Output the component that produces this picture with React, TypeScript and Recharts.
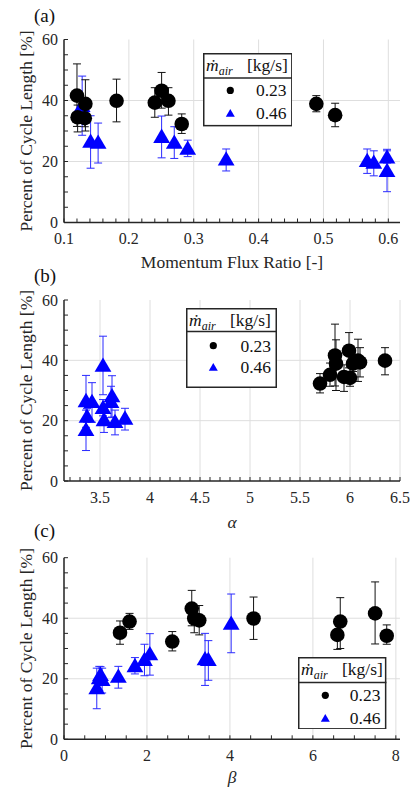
import React from 'react';
import { ScatterChart, Scatter, XAxis, YAxis, ErrorBar, CartesianGrid, Label } from 'recharts';

const SERIF = 'Liberation Serif, Tinos, Times, DejaVu Serif, serif';
const INK = '#262626';

// percent of cycle length [%] for m_air = 0.23 kg/s (circles), same points in all panels
const circleY = [41.6, 38.9, 34.5, 34.2, 39.9, 39.3, 43.2, 39.9, 32.3, 38.9, 35.2];
const circleLo = [31.5, 30.0, 29.7, 31.4, 33.0, 34.5, 37.5, 35.2, 29.2, 36.3, 31.4];
const circleHi = [52.0, 46.8, 38.5, 37.8, 47.0, 44.2, 49.2, 44.2, 35.6, 41.6, 39.1];
const circleMfr = [0.12, 0.133, 0.121, 0.132, 0.181, 0.24, 0.2505, 0.261, 0.2815, 0.489, 0.518];
const circleAlpha = [5.85, 5.86, 5.94, 6.0, 6.08, 6.1, 5.99, 6.35, 5.7, 6.03, 5.8];
const circleBeta = [7.5, 6.66, 6.59, 7.78, 4.57, 3.26, 3.08, 3.14, 2.61, 1.58, 1.35];

// m_air = 0.46 kg/s (triangles)
const triY = [38.5, 26.8, 26.5, 28.4, 26.5, 24.5, 21.0, 20.5, 19.9, 21.6, 17.2];
const triLo = [28.6, 17.8, 19.5, 21.2, 21.0, 21.6, 16.9, 16.1, 15.3, 19.5, 10.1];
const triHi = [48.0, 35.0, 32.6, 34.9, 31.4, 27.0, 24.1, 24.1, 23.5, 24.0, 23.5];
const triMfr = [0.128, 0.141, 0.1526, 0.2505, 0.27, 0.2907, 0.35, 0.5674, 0.5776, 0.598, 0.598];
const triAlpha = [3.53, 3.36, 3.42, 3.62, 3.61, 3.53, 3.75, 3.54, 3.65, 3.37, 3.36];
const triBeta = [4.03, 3.4, 3.48, 2.07, 1.94, 1.71, 1.31, 0.85, 0.92, 0.88, 0.79];

const yTicks = [0, 20, 40, 60];
const mfrTicks = [0.1, 0.2, 0.3, 0.4, 0.5, 0.6];
const alphaTicks = [3.5, 4, 4.5, 5, 5.5, 6, 6.5];
const betaTicks = [0, 2, 4, 6, 8];
const legendLabels = ['0.23', '0.46'];

const range = (a: number, b: number, step: number) => {
  const out: number[] = [];
  for (let v = a; v <= b + 1e-9; v += step) out.push(Math.round(v * 1000) / 1000);
  return out;
};

const yMinor = range(0, 60, 5);

const rows = (xs: number[], ys: number[], lo: number[], hi: number[]) =>
  xs.map((x, i) => ({ x, y: ys[i], err: [ys[i] - lo[i], hi[i] - ys[i]] }));

const majorFmt = (majors: number[]) => (v: number) =>
  majors.some((m) => Math.abs(m - v) < 1e-6) ? String(v) : '';

const Dot = (p: any) => <circle cx={p.cx} cy={p.cy} r={7.3} fill="#000" />;
const Tri = (p: any) => (
  <polygon
    points={`${p.cx},${p.cy - 7.3} ${p.cx - 8.4},${p.cy + 7} ${p.cx + 8.4},${p.cy + 7}`}
    fill="#0000ff"
  />
);

const tickStyle = { fill: INK, fontSize: 16, fontFamily: SERIF };
const axisLine = { stroke: INK, strokeWidth: 1.5 };
const tickLine = { stroke: INK, strokeWidth: 1 };

type Box = { left: number; top: number; w: number; h: number; head: number; r1: number; r2: number };

function LegendBox({ box }: { box: Box }) {
  const { left, top, w, h, head, r1, r2 } = box;
  return (
    <svg style={{ position: 'absolute', left, top }} width={w} height={h}>
      <rect x={0.75} y={0.75} width={w - 1.5} height={h - 1.5} fill="#fff" stroke={INK} strokeWidth={1.5} />
      <line x1={0} x2={w} y1={head} y2={head} stroke={INK} strokeWidth={1.5} />
      <text x={3} y={18} fontFamily={SERIF} fontSize={17.5} fill="#111">
        <tspan fontStyle="italic">ṁ</tspan>
        <tspan fontStyle="italic" fontSize={12} dy={4}>air</tspan>
        <tspan x={44} dy={-4}>[kg/s]</tspan>
      </text>
      <circle cx={27.3} cy={r1} r={3.6} fill="#000" />
      <polygon points={`27.3,${r2 - 4} 22.8,${r2 + 3.8} 31.8,${r2 + 3.8}`} fill="#0000ff" />
      <text x={w - 6} y={r1 + 6} textAnchor="end" fontFamily={SERIF} fontSize={17.5} fill="#111">
        {legendLabels[0]}
      </text>
      <text x={w - 6} y={r2 + 6} textAnchor="end" fontFamily={SERIF} fontSize={17.5} fill="#111">
        {legendLabels[1]}
      </text>
    </svg>
  );
}

type PanelProps = {
  top: number;
  plotTop: number;
  plotBottom: number;
  tag: string;
  tagTop: number;
  domain: [number, number];
  majors: number[];
  minorStep: number;
  minorStart: number;
  title: string;
  italic?: boolean;
  titleOffset: number;
  cx: number[];
  tx: number[];
  box: Box;
};

function Panel(p: PanelProps) {
  const height = p.plotBottom - p.top + 50;
  const minor = range(p.minorStart, p.majors[p.majors.length - 1], p.minorStep);
  const circles = rows(p.cx, circleY, circleLo, circleHi);
  const tris = rows(p.tx, triY, triLo, triHi);
  return (
    <>
      <div style={{ position: 'absolute', left: 0, top: p.top, width: 416, height }}>
        <ScatterChart
          width={416}
          height={height}
          margin={{ top: p.plotTop - p.top, right: 16, bottom: 0, left: 0 }}
          style={{ fontFamily: SERIF }}
        >
          <CartesianGrid stroke="#dedede" verticalValues={p.majors} horizontalValues={[20, 40]} />
          <XAxis
            type="number"
            dataKey="x"
            domain={p.domain}
            allowDataOverflow
            ticks={minor}
            interval={0}
            tickFormatter={majorFmt(p.majors)}
            tickSize={-4}
            tickMargin={14.5}
            height={50}
            axisLine={axisLine}
            tickLine={tickLine}
            tick={tickStyle}
          >
            <Label
              value={p.title}
              position="insideBottom"
              offset={p.titleOffset}
              fontFamily={SERIF}
              fontSize={17.5}
              fontStyle={p.italic ? 'italic' : 'normal'}
              fill={INK}
            />
          </XAxis>
          <XAxis
            xAxisId="top"
            orientation="top"
            type="number"
            domain={p.domain}
            allowDataOverflow
            ticks={minor}
            interval={0}
            tickFormatter={() => ''}
            tickSize={-4}
            height={0}
            axisLine={axisLine}
            tickLine={tickLine}
          />
          <YAxis
            type="number"
            dataKey="y"
            domain={[0, 60]}
            allowDataOverflow
            ticks={yMinor}
            interval={0}
            tickFormatter={majorFmt(yTicks)}
            tickSize={-4}
            tickMargin={10}
            width={64}
            axisLine={axisLine}
            tickLine={tickLine}
            tick={tickStyle}
          >
            <Label
              value="Percent of Cycle Length [%]"
              angle={-90}
              position="insideLeft"
              offset={26}
              fontFamily={SERIF}
              fontSize={17.5}
              fill={INK}
              style={{ textAnchor: 'middle' }}
            />
          </YAxis>
          <YAxis
            yAxisId="right"
            orientation="right"
            type="number"
            domain={[0, 60]}
            allowDataOverflow
            ticks={yMinor}
            interval={0}
            tickFormatter={() => ''}
            tickSize={-4}
            width={0}
            axisLine={axisLine}
            tickLine={tickLine}
          />
          <Scatter data={tris} shape={Tri} isAnimationActive={false}>
            <ErrorBar dataKey="err" direction="y" width={4} stroke="#2a2aff" strokeWidth={1} isAnimationActive={false} />
          </Scatter>
          <Scatter data={circles} shape={Dot} isAnimationActive={false}>
            <ErrorBar dataKey="err" direction="y" width={4} stroke="#111" strokeWidth={1} isAnimationActive={false} />
          </Scatter>
        </ScatterChart>
      </div>
      <div
        style={{ position: 'absolute', left: 34, top: p.tagTop, fontSize: 19, lineHeight: '19px', color: '#111', fontFamily: SERIF }}
      >
        {p.tag}
      </div>
      <LegendBox box={p.box} />
    </>
  );
}

export default function App() {
  return (
    <div
      style={{ position: 'absolute', left: 0, top: 0, width: 416, height: 789, background: '#fff', overflow: 'hidden', fontFamily: SERIF }}
    >
      <Panel
        top={0}
        plotTop={39.5}
        plotBottom={222.5}
        tag="(a)"
        tagTop={5.7}
        domain={[0.1, 0.618]}
        majors={mfrTicks}
        minorStart={0.1}
        minorStep={0.02}
        title="Momentum Flux Ratio [-]"
        titleOffset={4.5}
        cx={circleMfr}
        tx={triMfr}
        box={{ left: 202.7, top: 53.3, w: 89.6, h: 73.4, head: 25, r1: 37.4, r2: 60 }}
      />
      <Panel
        top={260}
        plotTop={300}
        plotBottom={481}
        tag="(b)"
        tagTop={265.7}
        domain={[3.14, 6.5]}
        majors={alphaTicks}
        minorStart={3.2}
        minorStep={0.1}
        title="α"
        italic
        titleOffset={3}
        cx={circleAlpha}
        tx={triAlpha}
        box={{ left: 185.7, top: 308.3, w: 91, h: 80, head: 23.4, r1: 37.7, r2: 59 }}
      />
      <Panel
        top={518}
        plotTop={557.7}
        plotBottom={739.3}
        tag="(c)"
        tagTop={520.7}
        domain={[0, 8.1]}
        majors={betaTicks}
        minorStart={0}
        minorStep={0.5}
        title="β"
        italic
        titleOffset={6}
        cx={circleBeta}
        tx={triBeta}
        box={{ left: 298.3, top: 656.7, w: 88.4, h: 72.6, head: 25.6, r1: 38.3, r2: 61 }}
      />
    </div>
  );
}
